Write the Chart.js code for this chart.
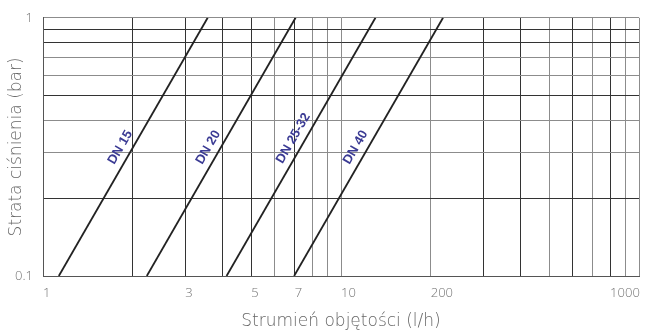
<!DOCTYPE html>
<html>
<head>
<meta charset="utf-8">
<script src="https://cdn.jsdelivr.net/npm/chart.js@4/dist/chart.umd.min.js"></script>
<style>
  html, body { margin: 0; padding: 0; background: #ffffff; }
  #wrap { width: 648px; height: 335px; }
</style>
</head>
<body>
<div id="wrap"><canvas id="c" width="648" height="335"></canvas></div>
<script>
// ---- data ----
const seriesNames = ['DN 15', 'DN 20', 'DN 25-32', 'DN 40'];
const pressure = [0.1, 1];              // bar, at both ends of each curve
const flowDN15 = [1.13, 3.57];
const flowDN20 = [2.23, 7.04];
const flowDN2532 = [4.13, 13.05];
const flowDN40 = [6.96, 22.0];
const flows = [flowDN15, flowDN20, flowDN2532, flowDN40];

const xTickValues = [1, 2, 3, 4, 5, 6, 7, 8, 9, 10, 20, 30, 40, 50, 60, 70, 80, 90, 100];
const xLabelValues = [1, 3, 5, 7, 10, 20, 80];
const xTickLabels = ['1', '3', '5', '7', '10', '200', '1000'];
const yTickValues = [0.1, 0.2, 0.3, 0.4, 0.5, 0.6, 0.7, 0.8, 0.9, 1];
const yLabelValues = [0.1, 1];
const yTickLabels = ['0.1', '1'];

// ---- styling ----
const DARK = '#333333';
const LIGHT = '#8c8c8c';
const darkX = [1, 2, 3, 4, 5, 7, 30, 40, 60, 80];
const darkY = [0.1, 0.2, 0.5, 0.8, 0.9];
const near = (a, b) => Math.abs(a - b) < 1e-6 * Math.max(1, Math.abs(b));

const datasets = flows.map((f, i) => ({
  label: seriesNames[i],
  data: f.map((q, k) => ({ x: q, y: pressure[k] })),
  borderColor: '#222222',
  borderWidth: 1.8,
  pointRadius: 0,
  fill: false,
  tension: 0
}));

const dnLabels = {
  id: 'dnLabels',
  afterDatasetsDraw(chart, args, opts) {
    const { ctx, scales } = chart;
    const xs = scales.x, ys = scales.y;
    ctx.save();
    ctx.font = 'bold 13px "Liberation Sans", Arial, sans-serif';
    ctx.fillStyle = '#3b3b94';
    ctx.textAlign = 'center';
    ctx.textBaseline = 'middle';
    chart.data.datasets.forEach((ds, i) => {
      const a = ds.data[0], b = ds.data[1];
      const x0 = xs.getPixelForValue(a.x), y0 = ys.getPixelForValue(a.y);
      const x1 = xs.getPixelForValue(b.x), y1 = ys.getPixelForValue(b.y);
      const pl = opts.anchors[i];
      const t = (Math.log(pl) - Math.log(a.y)) / (Math.log(b.y) - Math.log(a.y));
      const px = x0 + t * (x1 - x0), py = y0 + t * (y1 - y0);
      const ang = Math.atan2(y1 - y0, x1 - x0);
      const d = opts.offset;
      const cx = px + d * Math.sin(ang), cy = py - d * Math.cos(ang);
      ctx.save();
      ctx.translate(cx, cy);
      ctx.rotate(ang);
      ctx.fillText(ds.label, 0, 0);
      ctx.restore();
    });
    ctx.restore();
  }
};

const tickFont = { family: '"Open Sans", "DejaVu Sans", sans-serif', size: 13, weight: '300' };
const titleFont = { family: '"DejaVu Sans", sans-serif', size: 17, weight: '200' };

new Chart(document.getElementById('c'), {
  type: 'line',
  data: { datasets },
  plugins: [dnLabels],
  options: {
    responsive: false,
    animation: false,
    layout: { padding: { top: 15, right: 8, left: 0, bottom: 0 } },
    plugins: {
      legend: { display: false },
      tooltip: { enabled: false },
      dnLabels: { anchors: [0.3, 0.3, 0.325, 0.3], offset: 11 }
    },
    scales: {
      x: {
        type: 'logarithmic',
        min: 1,
        max: 100,
        afterBuildTicks: (s) => { s.ticks = xTickValues.map(v => ({ value: v })); },
        afterFit: (s) => { s.height = 59; },
        ticks: {
          autoSkip: false,
          maxRotation: 0,
          minRotation: 0,
          align: 'start',
          padding: 9,
          color: '#747474',
          font: tickFont,
          callback: (v) => {
            const k = xLabelValues.findIndex(u => near(v, u));
            return k >= 0 ? xTickLabels[k] : '';
          }
        },
        grid: {
          drawTicks: false,
          lineWidth: 1,
          color: (c) => (c.tick && darkX.some(u => near(c.tick.value, u))) ? DARK : LIGHT
        },
        border: { display: true, color: '#555555', width: 1 },
        title: {
          display: true,
          text: 'Strumień objętości (l/h)',
          color: '#666666',
          font: titleFont,
          padding: { top: 4, bottom: 3 }
        }
      },
      y: {
        type: 'logarithmic',
        min: 0.1,
        max: 1,
        afterBuildTicks: (s) => { s.ticks = yTickValues.map(v => ({ value: v })); },
        afterFit: (s) => { s.width = 43; },
        ticks: {
          autoSkip: false,
          padding: 10,
          color: '#747474',
          font: tickFont,
          callback: (v) => {
            const k = yLabelValues.findIndex(u => near(v, u));
            return k >= 0 ? yTickLabels[k] : '';
          }
        },
        grid: {
          drawTicks: false,
          lineWidth: 1,
          color: (c) => (c.tick && darkY.some(u => near(c.tick.value, u))) ? DARK : LIGHT
        },
        border: { display: true, color: '#555555', width: 1 },
        title: {
          display: true,
          text: 'Strata ciśnienia (bar)',
          color: '#666666',
          font: titleFont,
          padding: { top: 6, bottom: 2 }
        }
      }
    }
  }
});
</script>
</body>
</html>
